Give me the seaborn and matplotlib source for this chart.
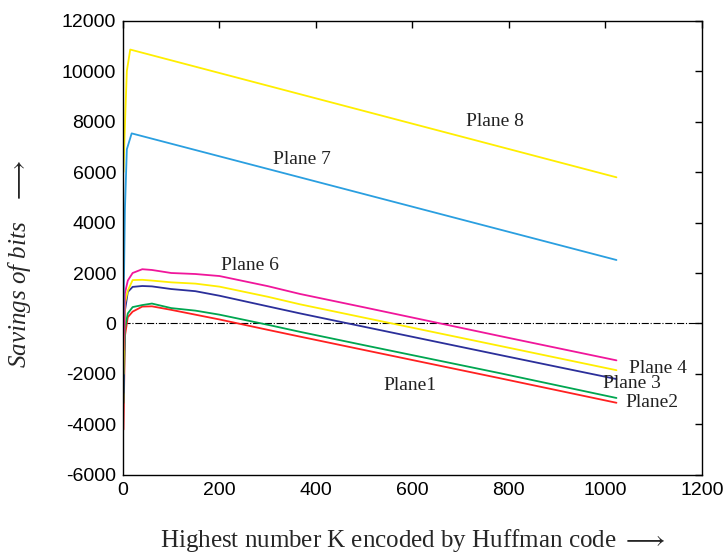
import numpy as np
import pandas as pd
import matplotlib
matplotlib.use('Agg')
import matplotlib.pyplot as plt
import seaborn as sns

# values
k_low = [1, 4, 10, 20, 40, 60, 100, 150, 200, 300, 367, 500, 782, 1023]
plane1 = [-4200, -500, 250, 470, 670, 680, 540, 350, 160, -250, -520, -1050, -2170, -3140]
plane2 = [-3150, -200, 400, 650, 730, 790, 610, 510, 350, -50, -330, -860, -1970, -2950]
plane3 = [-2750, 500, 1250, 1450, 1485, 1470, 1365, 1280, 1100, 680, 400, -130, -1250, -2200]
plane4 = [-2000, 800, 1300, 1720, 1730, 1700, 1630, 1580, 1460, 1060, 760, 230, -890, -1850]
plane6 = [-1050, 1200, 1700, 2000, 2150, 2120, 2000, 1960, 1880, 1480, 1170, 640, -500, -1460]

k_p7 = [1, 4, 8, 18, 1023]
plane7 = [300, 4500, 6900, 7530, 2515]
k_p8 = [1, 5, 8, 15, 1023]
plane8 = [6000, 8400, 10000, 10850, 5790]

plane_names = ['Plane 1', 'Plane 2', 'Plane 3', 'Plane 4', 'Plane 6', 'Plane 7', 'Plane 8']
plane_colors = ['#ff2020', '#00a650', '#2b2f9a', '#ffee00', '#f0169b', '#2a9fe0', '#ffee00']

labels = ['Plane 8', 'Plane 7', 'Plane 6', 'Plane 4', 'Plane 3', 'Plane2', 'Plane1']
label_x = [771, 371, 264, 1108, 1055, 1096, 594]
label_y = [7990, 6500, 2280, -1770, -2370, -3140, -2440]

series = [(k_low, plane1), (k_low, plane2), (k_low, plane3), (k_low, plane4),
          (k_low, plane6), (k_p7, plane7), (k_p8, plane8)]
rows = []
for name, (ks, vals) in zip(plane_names, series):
    for k, v in zip(ks, vals):
        rows.append({'K': k, 'savings': v, 'plane': name})
df = pd.DataFrame(rows)

sns.set_style('white')
plt.rcParams['font.family'] = ['Liberation Sans', 'DejaVu Sans']
plt.rcParams['mathtext.fontset'] = 'stix'
plt.rcParams['axes.unicode_minus'] = False

fig = plt.figure(figsize=(7.26, 5.56), dpi=100)
ax = fig.add_axes([0.1694, 0.1457, 0.7973, 0.8174])

ax.axhline(0, color='black', linestyle='-.', linewidth=0.8, zorder=1)
sns.lineplot(data=df, x='K', y='savings', hue='plane', hue_order=plane_names,
             palette=dict(zip(plane_names, plane_colors)), estimator=None,
             sort=False, legend=False, linewidth=1.3, ax=ax)

for txt, tx, ty in zip(labels, label_x, label_y):
    ax.text(tx, ty, txt, ha='center', va='center', fontsize=14,
            family='Liberation Serif', color='#222222')

ax.set_xlim(0, 1200)
ax.set_ylim(-6000, 12000)
ax.set_xticks(np.arange(0, 1201, 200))
ax.set_yticks(np.arange(-6000, 12001, 2000))
ax.tick_params(direction='in', top=True, right=True, length=5, width=1,
               labelsize=14, colors='black', pad=5)
for sp in ax.spines.values():
    sp.set_color('black')
    sp.set_linewidth(1.0)

ax.set_xlabel('Highest number K encoded by Huffman code $\\longrightarrow$',
              fontsize=18, family='Liberation Serif', labelpad=20)
ax.set_ylabel('Savings of bits   $\\longrightarrow$', fontsize=18,
              family='Liberation Serif', style='italic')
ax.yaxis.set_label_coords(-0.155, 0.465)

fig.savefig('out.png', dpi=100)
